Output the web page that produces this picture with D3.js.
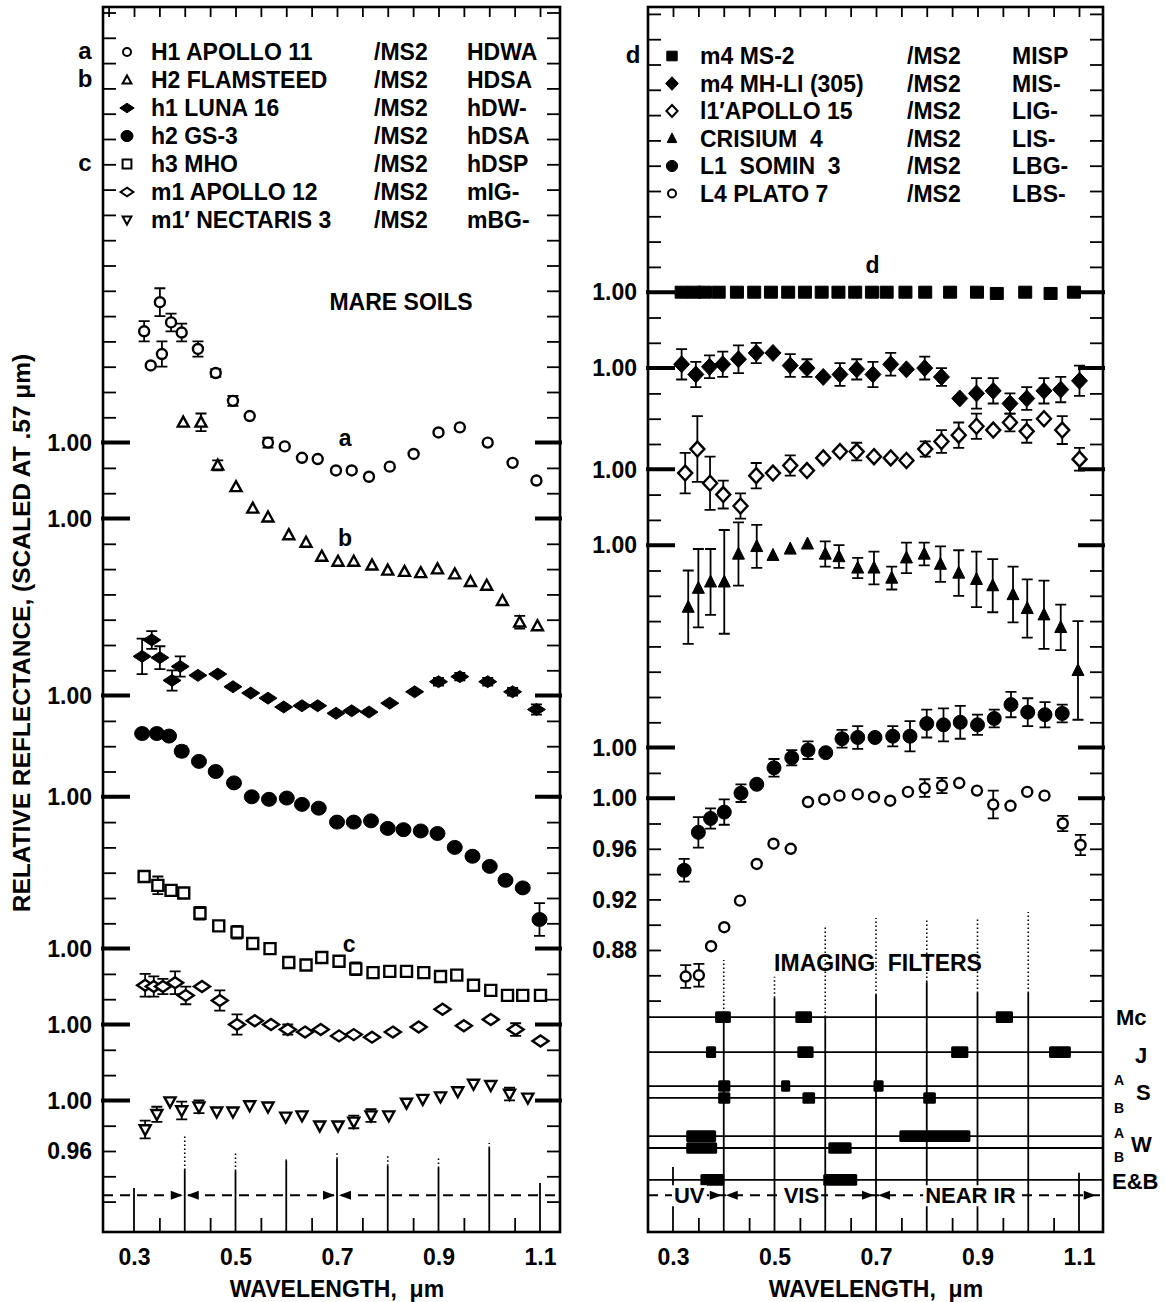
<!DOCTYPE html>
<html>
<head>
<meta charset="utf-8">
<script src="https://cdn.jsdelivr.net/npm/d3@7"></script>
<style>
  body { margin: 0; background: #fff; }
  svg text { font-family: "Liberation Sans", Arial, Helvetica, sans-serif; font-weight: bold; fill: #000; white-space: pre; }
</style>
</head>
<body>
<div id="chart"></div>
<script>
// ---------- data: [wavelength (um), relative reflectance, error] ----------
const waveTicks = [0.3, 0.5, 0.7, 0.9, 1.1];

// left panel (mare soils)
const apollo11 = [
  [0.320,1.088,0.008],[0.333,1.061,0],[0.351,1.111,0.011],[0.355,1.070,0.010],[0.373,1.095,0.007],
  [0.394,1.087,0.007],[0.426,1.074,0.006],[0.461,1.055,0.003],[0.495,1.033,0.004],[0.528,1.021,0],
  [0.564,1.000,0.004],[0.597,0.997,0],[0.631,0.988,0],[0.662,0.987,0],[0.698,0.978,0],[0.729,0.978,0],
  [0.763,0.973,0],[0.804,0.981,0],[0.851,0.991,0],[0.900,1.008,0],[0.942,1.012,0],[0.997,1.000,0],
  [1.046,0.984,0],[1.093,0.970,0]];
const flamsteed = [
  [0.397,1.076,0],[0.432,1.076,0.007],[0.465,1.042,0.004],[0.501,1.025,0],[0.534,1.008,0],[0.564,1.001,0],
  [0.605,0.987,0],[0.639,0.981,0],[0.670,0.970,0],[0.702,0.966,0],[0.733,0.966,0],[0.769,0.963,0],
  [0.800,0.959,0],[0.833,0.958,0],[0.865,0.957,0],[0.898,0.960,0],[0.932,0.956,0],[0.963,0.950,0],
  [0.995,0.947,0],[1.026,0.935,0],[1.060,0.918,0.005],[1.095,0.915,0]];
const luna16 = [
  [0.316,1.031,0.014],[0.335,1.044,0.007],[0.351,1.030,0.009],[0.375,1.012,0.008],[0.391,1.023,0.008],
  [0.426,1.016,0],[0.465,1.017,0],[0.495,1.007,0],[0.530,1.002,0],[0.564,0.998,0],[0.595,0.991,0],
  [0.631,0.992,0],[0.662,0.992,0],[0.698,0.986,0],[0.729,0.988,0],[0.763,0.987,0],[0.804,0.994,0],
  [0.853,1.003,0],[0.900,1.011,0.003],[0.942,1.015,0.003],[0.997,1.011,0.003],[1.046,1.003,0.003],[1.093,0.989,0.004]];
const gs3 = [
  [0.316,1.050,0],[0.345,1.050,0.003],[0.369,1.048,0],[0.394,1.036,0.004],[0.428,1.028,0],[0.461,1.020,0],
  [0.497,1.011,0],[0.532,1.000,0],[0.566,0.998,0],[0.601,0.999,0],[0.631,0.994,0],[0.664,0.991,0],
  [0.700,0.980,0],[0.733,0.980,0],[0.767,0.981,0],[0.800,0.975,0],[0.831,0.974,0],[0.865,0.973,0],
  [0.898,0.971,0],[0.932,0.960,0],[0.967,0.953,0],[1.001,0.945,0],[1.032,0.934,0],[1.066,0.928,0],[1.099,0.903,0.013]];
const mho = [
  [0.320,1.057,0],[0.347,1.050,0.007],[0.373,1.046,0],[0.398,1.044,0],[0.430,1.028,0.005],[0.467,1.018,0],
  [0.503,1.013,0.005],[0.534,1.004,0],[0.568,1.000,0],[0.605,0.989,0],[0.639,0.987,0],[0.670,0.993,0],
  [0.704,0.990,0],[0.737,0.984,0.005],[0.771,0.981,0],[0.804,0.982,0],[0.837,0.982,0],[0.871,0.981,0],
  [0.904,0.978,0],[0.936,0.979,0],[0.969,0.971,0],[1.003,0.967,0],[1.036,0.963,0],[1.066,0.963,0],[1.101,0.963,0]];
const apollo12 = [
  [0.322,1.031,0.009],[0.339,1.030,0.008],[0.357,1.030,0.006],[0.381,1.033,0.009],[0.402,1.023,0.007],
  [0.434,1.030,0],[0.469,1.019,0.008],[0.503,1.000,0.008],[0.538,1.003,0],[0.570,1.000,0],[0.603,0.996,0.004],
  [0.637,0.994,0],[0.668,0.996,0],[0.704,0.991,0],[0.733,0.992,0],[0.769,0.990,0],[0.810,0.994,0],
  [0.861,0.998,0],[0.908,1.012,0],[0.950,0.999,0],[1.003,1.004,0],[1.052,0.996,0.005],[1.101,0.987,0]];
const nectaris3 = [
  [0.322,0.977,0.007],[0.345,0.989,0.006],[0.371,0.999,0],[0.394,0.992,0.007],[0.428,0.995,0.005],
  [0.463,0.991,0],[0.495,0.991,0],[0.528,0.996,0],[0.564,0.995,0],[0.599,0.987,0],[0.631,0.988,0],
  [0.666,0.980,0],[0.702,0.980,0],[0.733,0.983,0.005],[0.767,0.988,0.005],[0.802,0.988,0],[0.837,0.998,0],
  [0.869,1.001,0],[0.904,1.003,0],[0.938,1.007,0],[0.969,1.013,0],[1.003,1.012,0],[1.040,1.005,0.005],[1.076,1.002,0]];

// right panel
const ms2 = [
  [0.317,1.000,0],[0.342,1.000,0],[0.363,1.000,0],[0.390,1.000,0],[0.426,1.000,0],[0.460,1.000,0],
  [0.493,1.000,0],[0.527,1.000,0],[0.560,1.000,0],[0.593,1.000,0],[0.626,1.000,0],[0.659,1.000,0],
  [0.692,1.000,0],[0.721,1.000,0],[0.758,1.000,0],[0.797,1.000,0],[0.846,1.000,0],[0.899,1.000,0],
  [0.938,0.999,0],[0.994,1.000,0],[1.044,0.999,0],[1.090,1.000,0]];
const mhLi305 = [
  [0.317,1.003,0.012],[0.345,0.995,0.010],[0.372,1.001,0.009],[0.398,1.003,0.010],[0.429,1.007,0.011],
  [0.464,1.012,0.008],[0.497,1.012,0],[0.531,1.002,0.009],[0.564,1.000,0.007],[0.596,0.993,0],
  [0.629,0.995,0.009],[0.662,0.999,0.008],[0.694,0.995,0.010],[0.729,1.003,0.009],[0.760,0.999,0],
  [0.796,1.000,0.009],[0.829,0.993,0.007],[0.865,0.976,0],[0.898,0.980,0.012],[0.931,0.982,0.010],
  [0.964,0.972,0.008],[0.997,0.976,0.009],[1.031,0.982,0.010],[1.064,0.983,0.010],[1.101,0.990,0.012]];
const apollo15 = [
  [0.324,0.997,0.016],[0.348,1.016,0.026],[0.373,0.989,0.021],[0.399,0.980,0.011],[0.433,0.971,0.010],
  [0.464,0.995,0.010],[0.497,0.997,0],[0.531,1.003,0.008],[0.564,0.999,0],[0.596,1.009,0],[0.629,1.014,0],
  [0.662,1.014,0.007],[0.696,1.010,0],[0.729,1.009,0],[0.760,1.007,0],[0.797,1.016,0.006],[0.829,1.022,0.009],
  [0.863,1.027,0.010],[0.898,1.034,0.010],[0.931,1.031,0],[0.964,1.037,0.007],[0.997,1.030,0.009],
  [1.031,1.040,0],[1.067,1.031,0.011],[1.101,1.008,0.009]];
const crisium4 = [
  [0.330,0.951,0.029],[0.350,0.966,0.031],[0.374,0.971,0.026],[0.401,0.971,0.041],[0.429,0.993,0.025],
  [0.465,0.999,0.017],[0.497,0.992,0],[0.531,0.997,0],[0.565,1.001,0],[0.600,0.993,0.010],[0.627,0.991,0.009],
  [0.664,0.982,0.008],[0.696,0.982,0.013],[0.731,0.974,0.009],[0.760,0.990,0.012],[0.795,0.993,0.009],
  [0.827,0.985,0.014],[0.863,0.978,0.018],[0.898,0.973,0.022],[0.930,0.968,0.021],[0.970,0.961,0.022],
  [0.998,0.950,0.023],[1.031,0.945,0.027],[1.064,0.935,0.018],[1.098,0.901,0.039]];
const somin3 = [
  [0.322,0.903,0.009],[0.350,0.933,0.012],[0.374,0.944,0.008],[0.401,0.949,0.010],[0.434,0.964,0.007],
  [0.465,0.971,0],[0.499,0.984,0.007],[0.534,0.992,0.006],[0.566,0.998,0.007],[0.601,0.996,0],
  [0.633,1.007,0.007],[0.664,1.008,0.009],[0.698,1.008,0],[0.733,1.009,0.008],[0.767,1.009,0.012],
  [0.800,1.019,0.011],[0.833,1.018,0.013],[0.866,1.020,0.013],[0.900,1.018,0.008],[0.933,1.023,0.007],
  [0.966,1.034,0.010],[0.999,1.028,0.011],[1.033,1.026,0.010],[1.067,1.027,0.007]];
const plato7 = [
  [0.325,0.859,0.009],[0.351,0.860,0.009],[0.375,0.883,0],[0.401,0.898,0],[0.432,0.919,0],[0.465,0.948,0],
  [0.498,0.964,0],[0.532,0.960,0],[0.566,0.997,0],[0.598,0.999,0],[0.628,1.002,0],[0.664,1.003,0],
  [0.696,1.001,0],[0.728,0.998,0],[0.763,1.005,0],[0.796,1.008,0.007],[0.830,1.010,0.006],[0.864,1.012,0],
  [0.899,1.006,0],[0.931,0.995,0.011],[0.965,0.994,0],[0.998,1.005,0],[1.032,1.002,0],[1.068,0.980,0.006],[1.103,0.963,0.008]];

// legend text
const leftNames = ["H1 APOLLO 11", "H2 FLAMSTEED", "h1 LUNA 16", "h2 GS-3", "h3 MHO", "m1 APOLLO 12", "m1\u2032 NECTARIS 3"];
const leftCodes = ["HDWA", "HDSA", "hDW-", "hDSA", "hDSP", "mIG-", "mBG-"];
const leftTags = ["a", "b", "", "", "c", "", ""];
const rightNames = ["m4 MS-2", "m4 MH-LI (305)", "l1\u2032APOLLO 15", "CRISIUM  4", "L1  SOMIN  3", "L4 PLATO 7"];
const rightCodes = ["MISP", "MIS-", "LIG-", "LIS-", "LBG-", "LBS-"];
const rightTags = ["d", "", "", "", "", ""];

// imaging filter passbands [from, to] (um), one list per filter row
const filterMc = [[0.383,0.414],[0.541,0.574],[0.936,0.970]];
const filterJ  = [[0.365,0.385],[0.545,0.577],[0.848,0.882],[1.041,1.084]];
const filterSA = [[0.389,0.413],[0.513,0.531],[0.695,0.715]];
const filterSB = [[0.389,0.413],[0.555,0.580],[0.793,0.818]];
const filterWA = [[0.326,0.385],[0.746,0.886]];
const filterWB = [[0.326,0.387],[0.606,0.652]];
const filterEB = [[0.354,0.401],[0.596,0.663]];
const filterLevels = [6.14, 5.14, 4.17, 3.83, 2.74, 2.40, 1.49];

// band boundary guides [wavelength, solid top, dotted top] in band units
const leftGuides = [[0.3,1.26,0],[0.4,1.77,2.74],[0.5,1.74,2.29],[0.6,2.03,2.14],[0.7,2.09,2.26],
                    [0.8,1.89,2.23],[0.9,1.83,2.11],[1.0,2.40,2.54],[1.1,1.40,0]];
const rightGuides = [[0.3,1.86,0],[0.4,6.14,7.77],[0.5,6.69,7.29],[0.6,6.14,8.71],[0.7,6.77,8.97],
                     [0.8,7.14,8.91],[0.9,6.83,8.97],[1.0,6.83,9.14],[1.1,1.69,0]];

// ---------- layout ----------
const frameTop = 7, frameBottom = 1232;
const svg = d3.select("#chart").append("svg").attr("width", 1166).attr("height", 1302);
svg.append("rect").attr("width", 1166).attr("height", 1302).attr("fill", "#fff");

const xL = d3.scaleLinear().domain([0.3, 1.1]).range([134, 540]);
const xR = d3.scaleLinear().domain([0.3, 1.1]).range([673, 1079]);
const yL = d3.scaleLinear().domain([0.96, 1.00]).range([1151, 1100.4]);
const yR = d3.scaleLinear().domain([0.88, 0.92]).range([950, 899.4]);
const yB = d3.scaleLinear().domain([0, 1]).range([frameBottom, frameBottom - 35]);

function shapePath(shape, w, h) {
  const a = w / 2, b = h / 2;
  switch (shape) {
    case "circle": return `M${-a},0A${a},${b} 0 1,0 ${a},0A${a},${b} 0 1,0 ${-a},0Z`;
    case "square": return `M${-a},${-b}H${a}V${b}H${-a}Z`;
    case "diamond": return `M0,${-b}L${a},0L0,${b}L${-a},0Z`;
    case "triangle": return `M0,${-b * 1.15}L${a},${b * 0.85}L${-a},${b * 0.85}Z`;
    case "triangleDown": return `M0,${b * 1.15}L${a},${-b * 0.85}L${-a},${-b * 0.85}Z`;
  }
}

const leftSeries = [
  {data: apollo11,  off: 0.52, shape: "circle",       w: 10, h: 10, filled: false},
  {data: flamsteed, off: 0.46, shape: "triangle",     w: 11, h: 10, filled: false},
  {data: luna16,    off: 0.32, shape: "diamond",      w: 18, h: 12, filled: true},
  {data: gs3,       off: 0.24, shape: "circle",       w: 15, h: 14, filled: true},
  {data: mho,       off: 0.12, shape: "square",       w: 11, h: 11, filled: false},
  {data: apollo12,  off: 0.06, shape: "diamond",      w: 16, h: 11, filled: false},
  {data: nectaris3, off: 0.00, shape: "triangleDown", w: 11, h: 10, filled: false}
];
const rightSeries = [
  {data: ms2,      off: 0.40, shape: "square",   w: 13, h: 12, filled: true},
  {data: mhLi305,  off: 0.34, shape: "diamond",  w: 16, h: 17, filled: true},
  {data: apollo15, off: 0.26, shape: "diamond",  w: 14, h: 15, filled: false},
  {data: crisium4, off: 0.20, shape: "triangle", w: 12, h: 12, filled: true},
  {data: somin3,   off: 0.04, shape: "circle",   w: 14, h: 14, filled: true},
  {data: plato7,   off: 0.00, shape: "circle",   w: 10, h: 10, filled: false}
];

function drawFrame(p) {
  const g = svg.append("g");
  const noDomain = s => s.select(".domain").remove();
  // y ticks both sides
  g.append("g").attr("transform", `translate(${p.x0},0)`)
    .call(d3.axisRight(p.y).tickValues(p.yTicks).tickSize(13).tickFormat(""))
    .call(noDomain).selectAll("line").attr("stroke-width", 1.8);
  g.append("g").attr("transform", `translate(${p.x1},0)`)
    .call(d3.axisLeft(p.y).tickValues(p.yTicks).tickSize(13).tickFormat(""))
    .call(noDomain).selectAll("line").attr("stroke-width", 1.8);
  // major ticks
  g.selectAll(".maj").data(p.majors).join("path")
    .attr("d", v => `M${p.x0 - 2},${p.y(v)}h29M${p.x1 + 2},${p.y(v)}h-27`)
    .attr("stroke", "#000").attr("stroke-width", 4);
  // y labels
  g.selectAll(".ylab").data(p.majors.map(v => [v, "1.00"]).concat(p.extras)).join("text")
    .attr("x", p.x0 - 11).attr("y", d => p.y(d[0])).attr("dy", "0.36em")
    .attr("text-anchor", "end").style("font-size", "23px").text(d => d[1]);
  // top ticks
  g.append("g").attr("transform", `translate(0,${frameTop})`)
    .call(d3.axisBottom(p.x).tickValues(d3.range(5, 23).map(i => i * 0.05)).tickSize(10).tickFormat(""))
    .call(noDomain).selectAll("line").attr("stroke-width", 1.8);
  // bottom minor ticks
  g.append("g").attr("transform", `translate(0,${frameBottom})`)
    .call(d3.axisTop(p.x).tickValues(d3.range(7, 22, 2).map(i => i * 0.05)).tickSize(14).tickFormat(""))
    .call(noDomain).selectAll("line").attr("stroke-width", 1.8);
  // tick labels
  const xa = g.append("g").attr("transform", `translate(0,${frameBottom})`)
    .call(d3.axisBottom(p.x).tickValues(waveTicks).tickSize(0).tickPadding(17).tickFormat(d3.format(".1f")))
    .call(noDomain);
  xa.selectAll("text").style("font-size", "23px").attr("font-family", null);
  svg.append("text").attr("x", p.x(0.7)).attr("y", 1297).attr("text-anchor", "middle")
    .style("font-size", "23px").text("WAVELENGTH,  \u03bcm");
  // guides
  g.selectAll(".gs").data(p.guides).join("line")
    .attr("x1", d => p.x(d[0])).attr("x2", d => p.x(d[0]))
    .attr("y1", frameBottom).attr("y2", d => yB(d[1]))
    .attr("stroke", "#000").attr("stroke-width", 1.8);
  g.selectAll(".gd").data(p.guides.filter(d => d[2] > 0)).join("line")
    .attr("x1", d => p.x(d[0])).attr("x2", d => p.x(d[0]))
    .attr("y1", d => yB(d[1])).attr("y2", d => yB(d[2]))
    .attr("stroke", "#000").attr("stroke-width", 1.6).attr("stroke-dasharray", "1.5,2.5");
  // dashed region line + arrows
  const yd = yB(1.05);
  g.append("line").attr("x1", p.x0).attr("x2", p.x1).attr("y1", yd).attr("y2", yd)
    .attr("stroke", "#000").attr("stroke-width", 1.8).attr("stroke-dasharray", "10,7");
  g.selectAll(".arr").data(p.arrows).join("path")
    .attr("d", d => { const t = p.x(d[0]) + d[1] * -2; return `M${t},${yd}l${-d[1] * 12},-4.5v9Z`; })
    .attr("fill", "#000");
  // frame
  svg.append("rect").attr("x", p.x0).attr("y", frameTop)
    .attr("width", p.x1 - p.x0).attr("height", frameBottom - frameTop)
    .attr("fill", "none").attr("stroke", "#000").attr("stroke-width", 2.6);
  return g;
}

function drawSeries(s, x, y) {
  const g = svg.append("g");
  g.selectAll("path.eb").data(s.data.filter(d => d[2] > 0)).join("path")
    .attr("d", d => {
      const cx = x(d[0]), t = y(d[1] + s.off + d[2]), b = y(d[1] + s.off - d[2]);
      return `M${cx},${t}V${b}M${cx - 5.5},${t}H${cx + 5.5}M${cx - 5.5},${b}H${cx + 5.5}`;
    })
    .attr("fill", "none").attr("stroke", "#000").attr("stroke-width", 1.8);
  g.selectAll("path.mk").data(s.data).join("path")
    .attr("transform", d => `translate(${x(d[0])},${y(d[1] + s.off)})`)
    .attr("d", shapePath(s.shape, s.w, s.h))
    .attr("fill", s.filled ? "#000" : "#fff")
    .attr("stroke", "#000").attr("stroke-width", s.filled ? 1 : 2.4);
}

function drawLegend(series, names, codes, tags, cfg) {
  const g = svg.append("g");
  series.forEach((s, i) => {
    const y = cfg.y0 + cfg.dy * i;
    g.append("path").attr("transform", `translate(${cfg.xs},${y})`)
      .attr("d", shapePath(s.shape, s.w * 0.8, s.h * 0.8))
      .attr("fill", s.filled ? "#000" : "#fff").attr("stroke", "#000").attr("stroke-width", s.filled ? 1 : 2);
    g.append("text").attr("x", cfg.xn).attr("y", y + 8).style("font-size", "23px").text(names[i]);
    g.append("text").attr("x", cfg.xm).attr("y", y + 8).style("font-size", "23px").text("/MS2");
    g.append("text").attr("x", cfg.xc).attr("y", y + 8).style("font-size", "23px").text(codes[i]);
    if (tags[i]) g.append("text").attr("x", cfg.xt).attr("y", y + 7).attr("text-anchor", "middle")
      .style("font-size", "24px").text(tags[i]);
  });
}

// ---------- left panel ----------
const pL = {
  x: xL, y: yL, x0: 103, x1: 560,
  yTicks: d3.range(46, 94).map(i => i / 50),
  majors: [1.52, 1.46, 1.32, 1.24, 1.12, 1.06, 1.00],
  extras: [[0.96, "0.96"]],
  guides: leftGuides,
  arrows: [[0.4, 1], [0.4, -1], [0.7, 1], [0.7, -1]]
};
drawFrame(pL);
leftSeries.forEach(s => drawSeries(s, xL, yL));
drawLegend(leftSeries, leftNames, leftCodes, leftTags, {y0: 52, dy: 28, xs: 127, xn: 151, xm: 374, xc: 467, xt: 85});
svg.append("text").attr("x", 401).attr("y", 310).attr("text-anchor", "middle").style("font-size", "23px").text("MARE SOILS");
svg.append("text").attr("x", xL(0.716)).attr("y", 446).attr("text-anchor", "middle").style("font-size", "23px").text("a");
svg.append("text").attr("x", xL(0.716)).attr("y", 546).attr("text-anchor", "middle").style("font-size", "23px").text("b");
svg.append("text").attr("x", xL(0.724)).attr("y", 952).attr("text-anchor", "middle").style("font-size", "23px").text("c");
svg.append("text").attr("transform", "translate(21,633) rotate(-90)").attr("text-anchor", "middle")
  .attr("dy", "0.36em").style("font-size", "24.5px").text("RELATIVE REFLECTANCE, (SCALED AT .57 \u03bcm)");

// ---------- right panel ----------
const pR = {
  x: xR, y: yR, x0: 648, x1: 1103,
  yTicks: d3.range(42, 82).map(i => i / 50),
  majors: [1.40, 1.34, 1.26, 1.20, 1.04, 1.00],
  extras: [[0.96, "0.96"], [0.92, "0.92"], [0.88, "0.88"]],
  guides: rightGuides,
  arrows: [[0.4, 1], [0.4, -1], [0.7, 1], [0.7, -1], [1.137, 1]]
};
drawFrame(pR);

// imaging filters
const filterRows = [filterMc, filterJ, filterSA, filterSB, filterWA, filterWB, filterEB];
const fg = svg.append("g");
fg.selectAll("line.fr").data(filterLevels).join("line")
  .attr("x1", pR.x0).attr("x2", pR.x1).attr("y1", d => yB(d)).attr("y2", d => yB(d))
  .attr("stroke", "#000").attr("stroke-width", 1.8);
filterRows.forEach((row, i) => {
  fg.selectAll(null).data(row).join("rect")
    .attr("x", d => xR(d[0])).attr("width", d => xR(d[1]) - xR(d[0]))
    .attr("y", yB(filterLevels[i]) - 5.8).attr("height", 11.6).attr("rx", 1.5).attr("fill", "#000");
});
// region labels on the dashed line
[["UV", 0.332], ["VIS", 0.553], ["NEAR IR", 0.886]].forEach(([t, w]) => {
  const tx = fg.append("text").attr("x", xR(w)).attr("y", yB(1.05) + 8).attr("text-anchor", "middle")
    .style("font-size", "22px").text(t);
  const bb = tx.node().getBBox();
  fg.insert("rect", "text").attr("x", bb.x - 2).attr("y", bb.y + 2).attr("width", bb.width + 4)
    .attr("height", bb.height - 4).attr("fill", "#fff");
});
svg.append("text").attr("x", 878).attr("y", 971).attr("text-anchor", "middle").style("font-size", "23px").text("IMAGING  FILTERS");
// filter names at right
const fl = svg.append("g").style("font-size", "22px");
fl.append("text").attr("x", 1116).attr("y", yB(filterLevels[0]) + 8).text("Mc");
fl.append("text").attr("x", 1135).attr("y", yB(filterLevels[1]) + 11).text("J");
fl.append("text").attr("x", 1114).attr("y", yB(filterLevels[2]) - 1).style("font-size", "14px").text("A");
fl.append("text").attr("x", 1136).attr("y", (yB(filterLevels[2]) + yB(filterLevels[3])) / 2 + 8).text("S");
fl.append("text").attr("x", 1114).attr("y", yB(filterLevels[3]) + 15).style("font-size", "14px").text("B");
fl.append("text").attr("x", 1114).attr("y", yB(filterLevels[4]) + 2).style("font-size", "14px").text("A");
fl.append("text").attr("x", 1131).attr("y", (yB(filterLevels[4]) + yB(filterLevels[5])) / 2 + 10).text("W");
fl.append("text").attr("x", 1114).attr("y", yB(filterLevels[5]) + 14).style("font-size", "14px").text("B");
fl.append("text").attr("x", 1112).attr("y", yB(filterLevels[6]) + 9).text("E&B");

rightSeries.forEach(s => drawSeries(s, xR, yR));
drawLegend(rightSeries, rightNames, rightCodes, rightTags, {y0: 56, dy: 27.5, xs: 672, xn: 700, xm: 907, xc: 1012, xt: 633});
svg.append("text").attr("x", xR(0.693)).attr("y", 273).attr("text-anchor", "middle").style("font-size", "23px").text("d");
</script>
</body>
</html>
